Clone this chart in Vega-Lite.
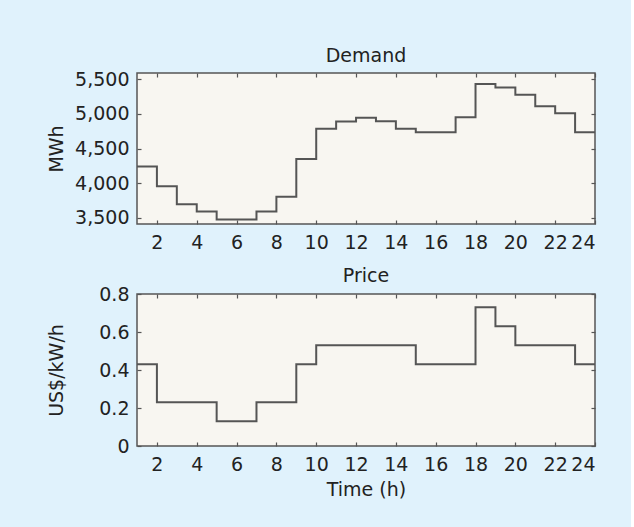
{
  "$schema": "https://vega.github.io/schema/vega-lite/v6.json",
  "background": "#e0f2fc",
  "padding": {"left": 46, "top": 46, "right": 31, "bottom": 29},
  "config": {
    "font": "DejaVu Sans",
    "view": {"fill": "#f8f6f1", "stroke": "#555555", "strokeWidth": 1.5},
    "axis": {"grid": false, "domain": false, "tickSize": -4, "tickColor": "#555555", "tickWidth": 1.2, "labelColor": "#222222", "labelFontSize": 19, "titleFontSize": 19, "titleFontWeight": "normal", "labelPadding": 12, "titleColor": "#222222"},
    "axisX": {"labelPadding": 13},
    "title": {"fontSize": 19, "fontWeight": "normal", "color": "#222222", "offset": 4}
  },
  "spacing": 13,
  "datasets": {
    "demand": [
      {"hour": 1, "mwh": 4240}, {"hour": 2, "mwh": 3955}, {"hour": 3, "mwh": 3695}, {"hour": 4, "mwh": 3590},
      {"hour": 5, "mwh": 3475}, {"hour": 6, "mwh": 3475}, {"hour": 7, "mwh": 3590}, {"hour": 8, "mwh": 3805},
      {"hour": 9, "mwh": 4350}, {"hour": 10, "mwh": 4785}, {"hour": 11, "mwh": 4890}, {"hour": 12, "mwh": 4945},
      {"hour": 13, "mwh": 4895}, {"hour": 14, "mwh": 4785}, {"hour": 15, "mwh": 4735}, {"hour": 16, "mwh": 4735},
      {"hour": 17, "mwh": 4950}, {"hour": 18, "mwh": 5430}, {"hour": 19, "mwh": 5380}, {"hour": 20, "mwh": 5275},
      {"hour": 21, "mwh": 5110}, {"hour": 22, "mwh": 5010}, {"hour": 23, "mwh": 4735}, {"hour": 24, "mwh": 4735}
    ],
    "price": [
      {"hour": 1, "price": 0.43}, {"hour": 2, "price": 0.23}, {"hour": 3, "price": 0.23}, {"hour": 4, "price": 0.23},
      {"hour": 5, "price": 0.13}, {"hour": 6, "price": 0.13}, {"hour": 7, "price": 0.23}, {"hour": 8, "price": 0.23},
      {"hour": 9, "price": 0.43}, {"hour": 10, "price": 0.53}, {"hour": 11, "price": 0.53}, {"hour": 12, "price": 0.53},
      {"hour": 13, "price": 0.53}, {"hour": 14, "price": 0.53}, {"hour": 15, "price": 0.43}, {"hour": 16, "price": 0.43},
      {"hour": 17, "price": 0.43}, {"hour": 18, "price": 0.73}, {"hour": 19, "price": 0.63}, {"hour": 20, "price": 0.53},
      {"hour": 21, "price": 0.53}, {"hour": 22, "price": 0.53}, {"hour": 23, "price": 0.43}, {"hour": 24, "price": 0.43}
    ]
  },
  "vconcat": [
    {
      "width": 458,
      "height": 151,
      "title": "Demand",
      "data": {"name": "demand"},
      "resolve": {"axis": {"x": "independent", "y": "independent"}},
      "layer": [
        {
          "mark": {"type": "line", "interpolate": "step-after", "color": "#555555", "strokeWidth": 2},
          "encoding": {
            "x": {"field": "hour", "type": "quantitative", "scale": {"domain": [1, 24], "nice": false, "zero": false},
                  "axis": {"values": [2, 4, 6, 8, 10, 12, 14, 16, 18, 20, 22, 24], "title": null}},
            "y": {"field": "mwh", "type": "quantitative", "scale": {"domain": [3410, 5590], "nice": false, "zero": false},
                  "axis": {"values": [3500, 4000, 4500, 5000, 5500], "format": ",.0f", "title": "MWh", "titlePadding": 8}}
          }
        },
        {
          "mark": {"type": "line", "opacity": 0},
          "encoding": {
            "x": {"field": "hour", "type": "quantitative",
                  "axis": {"orient": "top", "values": [2, 4, 6, 8, 10, 12, 14, 16, 18, 20, 22, 24], "labels": false, "title": null}},
            "y": {"field": "mwh", "type": "quantitative",
                  "axis": {"orient": "right", "values": [3500, 4000, 4500, 5000, 5500], "labels": false, "title": null}}
          }
        }
      ]
    },
    {
      "width": 458,
      "height": 152,
      "title": {"text": "Price", "offset": -1},
      "data": {"name": "price"},
      "resolve": {"axis": {"x": "independent", "y": "independent"}},
      "layer": [
        {
          "mark": {"type": "line", "interpolate": "step-after", "color": "#555555", "strokeWidth": 2},
          "encoding": {
            "x": {"field": "hour", "type": "quantitative", "scale": {"domain": [1, 24], "nice": false, "zero": false},
                  "axis": {"values": [2, 4, 6, 8, 10, 12, 14, 16, 18, 20, 22, 24], "title": "Time (h)", "titlePadding": 6}},
            "y": {"field": "price", "type": "quantitative", "scale": {"domain": [0, 0.8], "nice": false},
                  "axis": {"values": [0, 0.2, 0.4, 0.6, 0.8], "format": ".1~f", "title": "US$/kW/h", "titlePadding": 32}}
          }
        },
        {
          "mark": {"type": "line", "opacity": 0},
          "encoding": {
            "x": {"field": "hour", "type": "quantitative",
                  "axis": {"orient": "top", "values": [2, 4, 6, 8, 10, 12, 14, 16, 18, 20, 22, 24], "labels": false, "title": null}},
            "y": {"field": "price", "type": "quantitative",
                  "axis": {"orient": "right", "values": [0, 0.2, 0.4, 0.6, 0.8], "labels": false, "title": null}}
          }
        }
      ]
    }
  ]
}
